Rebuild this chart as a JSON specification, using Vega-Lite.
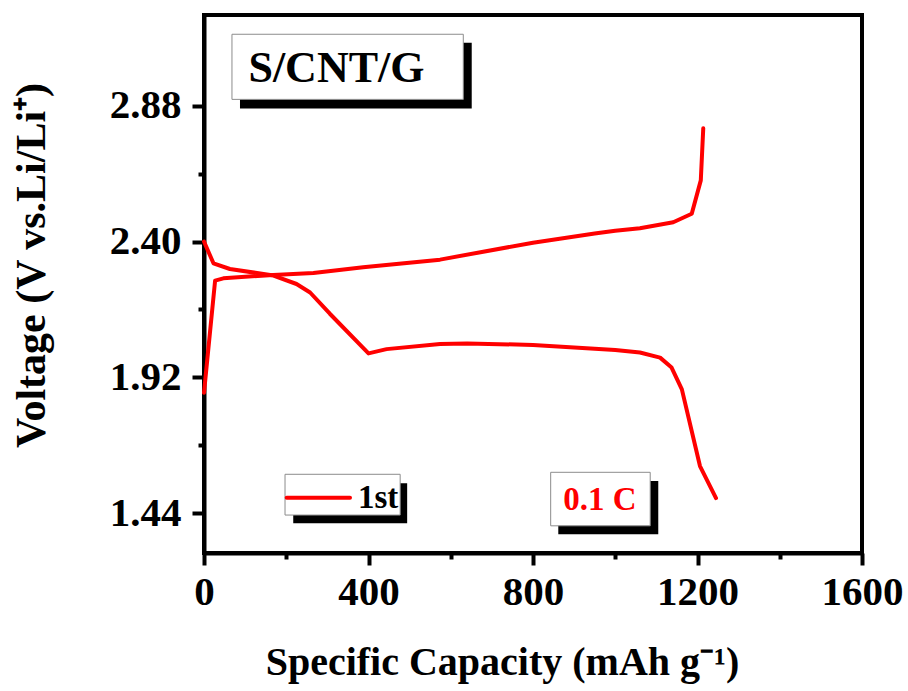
{
  "$schema": "https://vega.github.io/schema/vega-lite/v6.json",
  "width": 658,
  "height": 538,
  "autosize": {"type": "none"},
  "padding": {"left": 204, "top": 15, "right": 46, "bottom": 138},
  "background": "white",
  "config": {
    "view": {"stroke": "black", "strokeWidth": 4},
    "axis": {
      "grid": false,
      "domainColor": "black",
      "domainWidth": 4,
      "tickColor": "black",
      "tickWidth": 4,
      "labelFont": "Liberation Serif",
      "labelFontWeight": "bold",
      "labelFontSize": 41,
      "labelColor": "black",
      "labelFlush": false,
      "labelOverlap": false,
      "titleFont": "Liberation Serif",
      "titleFontWeight": "bold",
      "titleColor": "black"
    }
  },
  "datasets": {
    "curves": [
      {"series": "discharge", "cap": 0, "v": 2.40},
      {"series": "discharge", "cap": 23, "v": 2.323},
      {"series": "discharge", "cap": 63, "v": 2.303},
      {"series": "discharge", "cap": 169, "v": 2.28},
      {"series": "discharge", "cap": 225, "v": 2.25},
      {"series": "discharge", "cap": 258, "v": 2.22},
      {"series": "discharge", "cap": 306, "v": 2.145},
      {"series": "discharge", "cap": 400, "v": 2.005},
      {"series": "discharge", "cap": 444, "v": 2.02},
      {"series": "discharge", "cap": 574, "v": 2.038},
      {"series": "discharge", "cap": 640, "v": 2.04},
      {"series": "discharge", "cap": 800, "v": 2.035},
      {"series": "discharge", "cap": 1000, "v": 2.017},
      {"series": "discharge", "cap": 1060, "v": 2.008},
      {"series": "discharge", "cap": 1109, "v": 1.99},
      {"series": "discharge", "cap": 1137, "v": 1.955},
      {"series": "discharge", "cap": 1162, "v": 1.878},
      {"series": "discharge", "cap": 1206, "v": 1.607},
      {"series": "discharge", "cap": 1245, "v": 1.494},
      {"series": "charge", "cap": 0, "v": 1.866},
      {"series": "charge", "cap": 27, "v": 2.262},
      {"series": "charge", "cap": 47, "v": 2.27},
      {"series": "charge", "cap": 168, "v": 2.282},
      {"series": "charge", "cap": 266, "v": 2.289},
      {"series": "charge", "cap": 387, "v": 2.309},
      {"series": "charge", "cap": 574, "v": 2.336},
      {"series": "charge", "cap": 800, "v": 2.396},
      {"series": "charge", "cap": 950, "v": 2.428},
      {"series": "charge", "cap": 1000, "v": 2.438},
      {"series": "charge", "cap": 1060, "v": 2.447},
      {"series": "charge", "cap": 1141, "v": 2.468},
      {"series": "charge", "cap": 1186, "v": 2.498},
      {"series": "charge", "cap": 1208, "v": 2.616},
      {"series": "charge", "cap": 1214, "v": 2.80}
    ],
    "shadows": [
      {"cap": 87.5, "cap2": 651, "v": 3.102, "v2": 2.870},
      {"cap": 217, "cap2": 494, "v": 1.546, "v2": 1.405},
      {"cap": 861.5, "cap2": 1104.6, "v": 1.554, "v2": 1.366}
    ],
    "boxes": [
      {"cap": 68, "cap2": 630.5, "v": 3.132, "v2": 2.902},
      {"cap": 197, "cap2": 477, "v": 1.578, "v2": 1.434},
      {"cap": 843, "cap2": 1085, "v": 1.585, "v2": 1.396}
    ],
    "title": [{"cap": 322, "v": 2.964, "label": "S/CNT/G"}],
    "legendline": [{"cap": 201, "cap2": 355, "v": 1.495}],
    "legendtext": [{"cap": 374.5, "v": 1.460, "label": "1st"}],
    "rate": [{"cap": 963, "v": 1.452, "label": "0.1 C"}]
  },
  "encoding": {
    "x": {
      "field": "cap",
      "type": "quantitative",
      "scale": {"domain": [0, 1600], "nice": false, "zero": false},
      "axis": {
        "title": "Specific Capacity (mAh g⁻¹)",
        "titleFontSize": 40,
        "titlePadding": 30,
        "titleX": 298,
        "titleAlign": "center",
        "values": [0, 200, 400, 600, 800, 1000, 1200, 1400, 1600],
        "format": "d",
        "labelExpr": "datum.value % 400 == 0 ? datum.label : ''",
        "tickSize": {"condition": {"test": "datum.value % 400 != 0", "value": 6}, "value": 12},
        "labelPadding": 7
      }
    },
    "y": {
      "field": "v",
      "type": "quantitative",
      "scale": {"domain": [1.3, 3.2], "nice": false, "zero": false},
      "axis": {
        "title": "Voltage (V vs.Li/Li⁺)",
        "titleFontSize": 42,
        "titlePadding": 56,
        "titleY": 250,
        "titleAlign": "center",
        "values": [1.44, 1.68, 1.92, 2.16, 2.4, 2.64, 2.88],
        "format": ".2f",
        "labelExpr": "(datum.label == '1.44' || datum.label == '1.92' || datum.label == '2.40' || datum.label == '2.88') ? datum.label : ''",
        "tickSize": {"condition": {"test": "datum.value == 1.68 || datum.value == 2.16 || datum.value == 2.64", "value": 6}, "value": 12},
        "labelPadding": 11
      }
    }
  },
  "layer": [
    {
      "data": {"name": "curves"},
      "mark": {"type": "line", "color": "#ff0000", "strokeWidth": 4, "strokeJoin": "round", "strokeCap": "round"},
      "encoding": {"detail": {"field": "series", "type": "nominal"}}
    },
    {
      "data": {"name": "shadows"},
      "mark": {"type": "rect", "color": "black"},
      "encoding": {"x2": {"field": "cap2"}, "y2": {"field": "v2"}}
    },
    {
      "data": {"name": "boxes"},
      "mark": {"type": "rect", "fill": "white", "stroke": "#8c8c8c", "strokeWidth": 1},
      "encoding": {"x2": {"field": "cap2"}, "y2": {"field": "v2"}}
    },
    {
      "data": {"name": "title"},
      "mark": {"type": "text", "font": "Liberation Serif", "fontWeight": "bold", "fontSize": 44, "color": "black", "align": "center", "baseline": "alphabetic"},
      "encoding": {"text": {"field": "label"}}
    },
    {
      "data": {"name": "legendline"},
      "mark": {"type": "rule", "color": "#ff0000", "strokeWidth": 4, "strokeCap": "round"},
      "encoding": {"x2": {"field": "cap2"}}
    },
    {
      "data": {"name": "legendtext"},
      "mark": {"type": "text", "font": "Liberation Serif", "fontWeight": "bold", "fontSize": 33, "color": "black", "align": "left", "baseline": "alphabetic"},
      "encoding": {"text": {"field": "label"}}
    },
    {
      "data": {"name": "rate"},
      "mark": {"type": "text", "font": "Liberation Serif", "fontWeight": "bold", "fontSize": 33, "color": "#ff0000", "align": "center", "baseline": "alphabetic"},
      "encoding": {"text": {"field": "label"}}
    }
  ]
}
